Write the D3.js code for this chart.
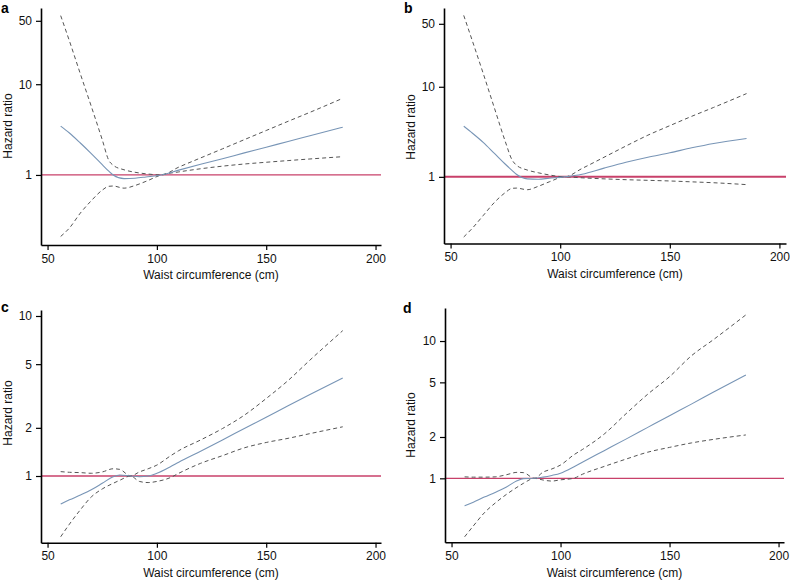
<!DOCTYPE html>
<html>
<head>
<meta charset="utf-8">
<script src="https://cdn.jsdelivr.net/npm/d3@7"></script>
<style>
  body { margin: 0; background: #fff; }
  svg { display: block; font-family: "Liberation Sans", Arial, Helvetica, sans-serif; }
</style>
</head>
<body>
<svg id="chart" width="790" height="580"></svg>
<script>
// ---------- data ----------
const waistAB = [56, 60, 65, 70, 75, 78, 80, 85, 90, 95, 102, 110, 120, 130, 140, 150, 160, 170, 185];
const waistCD = [56, 60, 65, 70, 75, 80, 83, 88, 92, 96, 100, 106, 110, 120, 130, 140, 150, 160, 170, 185];

const hrA  = [3.45, 2.9, 2.25, 1.72, 1.3, 1.1, 1.0, 0.91, 0.92, 0.95, 1.0, 1.13, 1.31, 1.51, 1.75, 2.02, 2.34, 2.7, 3.36];
const lowA = [0.21, 0.26, 0.38, 0.52, 0.68, 0.75, 0.755, 0.715, 0.765, 0.85, 1.0, 1.08, 1.17, 1.25, 1.32, 1.38, 1.44, 1.5, 1.59];
const upA  = [57, 30, 13, 5.7, 2.45, 1.45, 1.28, 1.14, 1.07, 1.03, 1.0, 1.22, 1.54, 1.94, 2.45, 3.09, 3.9, 4.9, 7.0];

const hrB  = [3.65, 3.05, 2.4, 1.82, 1.38, 1.18, 1.07, 0.95, 0.94, 0.965, 1.0, 1.07, 1.25, 1.45, 1.65, 1.85, 2.1, 2.35, 2.67];
const lowB = [0.215, 0.27, 0.375, 0.52, 0.67, 0.745, 0.75, 0.72, 0.785, 0.88, 1.0, 0.975, 0.95, 0.93, 0.915, 0.9, 0.88, 0.86, 0.82];
const upB  = [62, 32, 13.8, 5.8, 2.45, 1.55, 1.35, 1.19, 1.11, 1.05, 1.0, 1.24, 1.65, 2.2, 2.9, 3.7, 4.7, 5.9, 8.4];

const hrC  = [0.668, 0.71, 0.76, 0.82, 0.9, 0.99, 1.015, 1.0, 0.99, 1.0, 1.04, 1.14, 1.22, 1.43, 1.68, 1.98, 2.33, 2.75, 3.23, 4.1];
const lowC = [0.417, 0.5, 0.615, 0.74, 0.83, 0.9, 0.94, 1.0, 0.925, 0.91, 0.925, 0.975, 1.04, 1.2, 1.34, 1.5, 1.62, 1.72, 1.84, 2.03];
const upC  = [1.065, 1.055, 1.05, 1.04, 1.06, 1.11, 1.1, 1.0, 1.06, 1.11, 1.17, 1.33, 1.44, 1.68, 1.98, 2.4, 3.05, 3.95, 5.3, 8.1];

const hrD  = [0.63, 0.67, 0.73, 0.79, 0.86, 0.96, 0.995, 1.0, 1.02, 1.05, 1.09, 1.21, 1.31, 1.59, 1.93, 2.35, 2.86, 3.47, 4.23, 5.66];
const lowD = [0.375, 0.45, 0.56, 0.66, 0.76, 0.86, 0.92, 1.0, 0.972, 0.955, 0.975, 1.0, 1.07, 1.22, 1.38, 1.55, 1.68, 1.81, 1.92, 2.07];
const upD  = [1.025, 1.02, 1.02, 1.025, 1.06, 1.105, 1.1, 1.0, 1.11, 1.17, 1.25, 1.48, 1.62, 2.1, 2.95, 4.1, 5.5, 7.8, 10.2, 15.5];

const xTicks = [50, 100, 150, 200];
const yTicksAB = [1, 10, 50];
const yTicksCD = [1, 2, 5, 10];
const panelLabels = ["a", "b", "c", "d"];
const xTitle = "Waist circumference (cm)";
const yTitle = "Hazard ratio";
const refHR = 1;

// ---------- layout ----------
const panels = [
  { label: panelLabels[0], x: waistAB, hr: hrA, lo: lowA, up: upA, yTicks: yTicksAB,
    left: 41, right: 381, xMax: 202.5, top: 8, bottom: 245, yDom: [0.169, 69.2],
    lblX: 1, lblY: 13, ytX: 12, ytY: 126, xtY: 279, red: 1.3 },
  { label: panelLabels[1], x: waistAB, hr: hrB, lo: lowB, up: upB, yTicks: yTicksAB,
    left: 444, right: 786, xMax: 203, top: 8, bottom: 243.5, yDom: [0.182, 74.9],
    lblX: 404, lblY: 13, ytX: 414.5, ytY: 127, xtY: 278, red: 2 },
  { label: panelLabels[2], x: waistCD, hr: hrC, lo: lowC, up: upC, yTicks: yTicksCD,
    left: 41, right: 381, xMax: 202.5, top: 310, bottom: 542.7, yDom: [0.383, 10.9],
    lblX: 1, lblY: 312, ytX: 11.5, ytY: 413, xtY: 577, red: 1.3 },
  { label: panelLabels[3], x: waistCD, hr: hrD, lo: lowD, up: upD, yTicks: yTicksCD,
    left: 445, right: 784, xMax: 202.5, top: 308, bottom: 542.3, yDom: [0.342, 17.4],
    lblX: 403, lblY: 313, ytX: 414.5, ytY: 425, xtY: 577, red: 1.3 }
];

const svg = d3.select("#chart");

panels.forEach(p => {
  const g = svg.append("g");
  const xs = d3.scaleLinear().domain([47, p.xMax]).range([p.left, p.right]);
  const ys = d3.scaleLog().domain(p.yDom).range([p.bottom, p.top]);

  // reference line
  g.append("line")
    .attr("x1", xs.range()[0]).attr("x2", xs.range()[1])
    .attr("y1", ys(refHR)).attr("y2", ys(refHR))
    .attr("stroke", "#c8406a").attr("stroke-width", p.red);

  const line = arr => d3.line()
    .x((d, i) => xs(p.x[i]))
    .y(d => ys(d))
    .curve(d3.curveMonotoneX)(arr);

  g.append("path").attr("d", line(p.up))
    .attr("fill", "none").attr("stroke", "#555").attr("stroke-width", 1)
    .attr("stroke-dasharray", "4,3");
  g.append("path").attr("d", line(p.lo))
    .attr("fill", "none").attr("stroke", "#555").attr("stroke-width", 1)
    .attr("stroke-dasharray", "4,3");
  g.append("path").attr("d", line(p.hr))
    .attr("fill", "none").attr("stroke", "#7895b6").attr("stroke-width", 1.1);

  // axes
  const xAxis = d3.axisBottom(xs).tickValues(xTicks).tickSize(5).tickPadding(4).tickSizeOuter(0)
    .tickFormat(d3.format("d"));
  const gx = g.append("g").attr("transform", `translate(0,${p.bottom})`).call(xAxis);
  const yAxis = d3.axisLeft(ys).tickValues(p.yTicks).tickSize(5).tickPadding(4).tickSizeOuter(0)
    .tickFormat(d3.format("d"));
  const gy = g.append("g").attr("transform", `translate(${p.left},0)`).call(yAxis);

  [gx, gy].forEach(a => {
    a.select(".domain").attr("stroke", "#000").attr("stroke-width", 1.6);
    a.selectAll(".tick line").attr("stroke", "#000").attr("stroke-width", 1.2);
    a.selectAll(".tick text").attr("fill", "#111").style("font-size", "12px")
      .style("font-family", '"Liberation Sans", Arial, sans-serif');
  });

  // titles
  g.append("text")
    .attr("x", (p.left + p.right) / 2).attr("y", p.xtY)
    .attr("text-anchor", "middle").style("font-size", "12px").attr("fill", "#111")
    .text(xTitle);
  g.append("text")
    .attr("transform", `translate(${p.ytX},${p.ytY}) rotate(-90)`)
    .attr("text-anchor", "middle").style("font-size", "12px").attr("fill", "#111")
    .text(yTitle);
  g.append("text")
    .attr("x", p.lblX).attr("y", p.lblY)
    .style("font-size", "14px").style("font-weight", "bold").attr("fill", "#000")
    .text(p.label);
});
</script>
</body>
</html>
